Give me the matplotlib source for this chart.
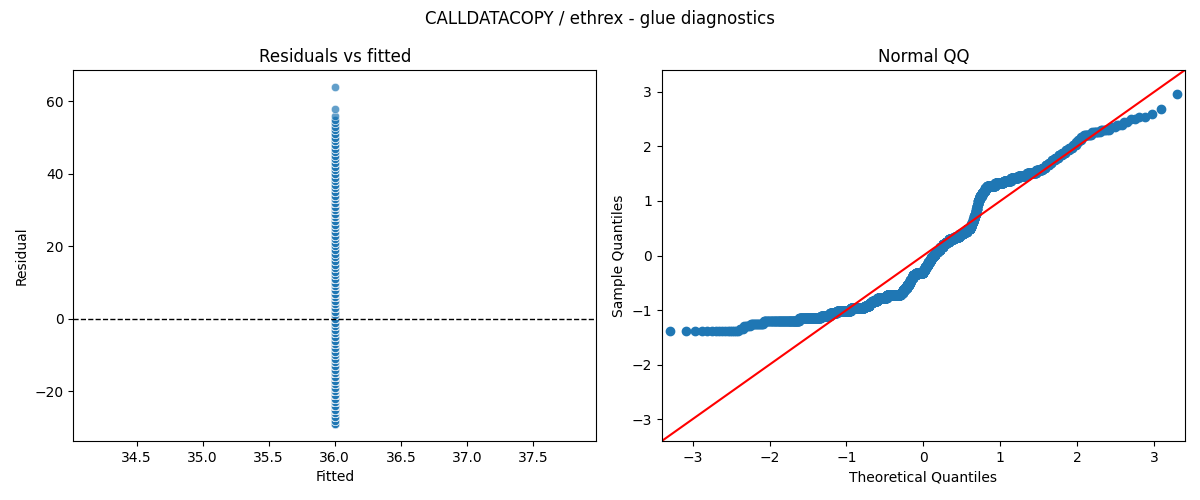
from statistics import NormalDist
import numpy as np
import matplotlib
matplotlib.use("Agg")
import matplotlib.pyplot as plt

# residuals (gas units) and how many runs landed on each value
residual_levels = list(range(-29, 65))
residual_counts = [
    16, 3, 5, 13, 69, 76, 42, 36, 84,
    100, 39, 23, 44, 83, 134, 21, 21, 21, 21,
    13, 13, 14, 32, 77, 17, 16, 17, 16, 17,
    20, 22, 22, 27, 26, 27, 34, 50, 49, 36,
    32, 31, 8, 9, 8, 8, 8, 5, 4, 5,
    4, 5, 4, 10, 15, 14, 13, 14, 57, 53,
    42, 37, 40, 36, 20, 10, 9, 8, 8, 8,
    8, 7, 6, 6, 5, 3, 4, 3, 9, 7,
    6, 3, 3, 2, 2, 2, 1, 0, 1, 0,
    0, 0, 0, 0, 1,
]
fitted_value = 36.0

resid = np.repeat(residual_levels, residual_counts).astype(float)
fitted = np.full(resid.size, fitted_value)

# normal QQ: standardised residuals vs normal quantiles
n = resid.size
sample_q = np.sort((resid - resid.mean()) / resid.std())
theo_q = np.array([NormalDist().inv_cdf(i / (n + 1)) for i in range(1, n + 1)])

fig, (ax1, ax2) = plt.subplots(1, 2, figsize=(12, 5), dpi=100)
fig.subplots_adjust(left=0.061, right=0.9875, bottom=0.118, top=0.86, wspace=0.125)
fig.suptitle("CALLDATACOPY / ethrex - glue diagnostics", fontsize=12)

ax1.scatter(fitted, resid, s=36, color="#1f77b4", alpha=0.7,
            edgecolor="white", linewidth=0.5)
ax1.axhline(0, color="black", linestyle="--", linewidth=1)
ax1.set_title("Residuals vs fitted")
ax1.set_xlabel("Fitted")
ax1.set_ylabel("Residual")

ax2.plot(theo_q, sample_q, "o", color="#1f77b4", markersize=6)
lim = (-3.4, 3.4)
ax2.set_xlim(lim)
ax2.set_ylim(lim)
ax2.plot(lim, lim, color="red", linewidth=1.5)
ax2.set_title("Normal QQ")
ax2.set_xlabel("Theoretical Quantiles")
ax2.set_ylabel("Sample Quantiles")

fig.savefig("out.png", dpi=100)
